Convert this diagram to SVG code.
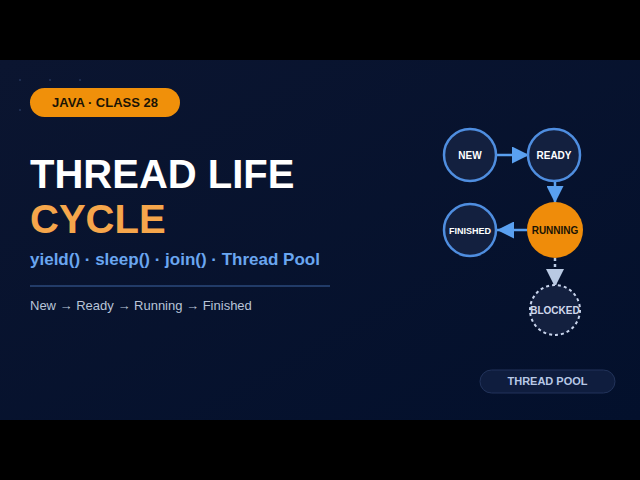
<svg xmlns="http://www.w3.org/2000/svg" width="640" height="480" viewBox="0 0 640 480">
<defs>
<linearGradient id="bg" x1="0" y1="0" x2="1" y2="1">
<stop offset="0" stop-color="#0b1530"/>
<stop offset="1" stop-color="#03102c"/>
</linearGradient>
<marker id="ah" viewBox="0 0 10 10" refX="10" refY="5" markerWidth="17" markerHeight="17" markerUnits="userSpaceOnUse" orient="auto"><path d="M0,0 L10,5 L0,10 Z" fill="#5aa0f0"/></marker>
<marker id="ahp" viewBox="0 0 10 10" refX="10" refY="5" markerWidth="18" markerHeight="18" markerUnits="userSpaceOnUse" orient="auto"><path d="M0,0 L10,5 L0,10 Z" fill="#b9c9e3"/></marker>
</defs>
<style>
.s{font-family:"Liberation Sans",Arial,sans-serif;font-weight:bold}
.n{fill:#13203f;stroke:#4f8ee0;stroke-width:2.5}
.nt{font-family:"Liberation Sans",Arial,sans-serif;font-weight:bold;font-size:10px;fill:#ffffff;text-anchor:middle}
.e{stroke:#5aa0f0;stroke-width:2.5;fill:none}
</style>
<rect width="640" height="480" fill="#000"/>
<rect x="0" y="60" width="640" height="360" fill="url(#bg)"/>
<g fill="#24345a">
<circle cx="20" cy="80" r="1"/><circle cx="50" cy="80" r="1"/><circle cx="80" cy="80" r="1"/><circle cx="20" cy="110" r="1"/>
</g>
<g id="badge">
<rect x="30" y="88" width="150" height="29" rx="14.5" fill="#f0900a"/>
<text x="105" y="107" class="s" font-size="13" fill="#1a1405" text-anchor="middle">JAVA · CLASS 28</text>
</g>
<g id="title">
<text x="30" y="188" class="s" font-size="40" fill="#ffffff">THREAD LIFE</text>
<text x="30" y="233" class="s" font-size="40" fill="#f6a64b">CYCLE</text>
<text x="30" y="265" class="s" font-size="17" fill="#6aa6f0">yield() · sleep() · join() · Thread Pool</text>
<line x1="30" y1="286" x2="330" y2="286" stroke="#2b4a7c" stroke-width="1.5"/>
<text x="30" y="310" font-family="Liberation Sans,Arial,sans-serif" font-size="13" fill="#b8c4d8">New → Ready → Running → Finished</text>
</g>
<g id="connectors">
<line class="e" x1="497" y1="155" x2="529" y2="155" marker-end="url(#ah)"/>
<line class="e" x1="555" y1="181" x2="555" y2="203" marker-end="url(#ah)"/>
<line class="e" x1="527" y1="230" x2="497" y2="230" marker-end="url(#ah)"/>
<line x1="555" y1="258" x2="555" y2="287" stroke="#b9c9e3" stroke-width="2.5" stroke-dasharray="3 3" marker-end="url(#ahp)"/>
</g>
<g id="node-new"><circle class="n" cx="470" cy="155" r="26"/><text class="nt" x="470" y="159">NEW</text></g>
<g id="node-ready"><circle class="n" cx="554" cy="155" r="26"/><text class="nt" x="554" y="159">READY</text></g>
<g id="node-running"><circle cx="555" cy="230" r="28" fill="#ef8c0a"/><text class="nt" x="555" y="234" style="fill:#1a1405">RUNNING</text></g>
<g id="node-finished"><circle class="n" cx="470" cy="230" r="26"/><text class="nt" x="470" y="234" style="font-size:9px">FINISHED</text></g>
<g id="node-blocked"><circle cx="555" cy="310" r="25" fill="#13203f" stroke="#c8d4ec" stroke-width="2" stroke-dasharray="3 3"/><text class="nt" x="555" y="314" style="font-size:10px;fill:#d0d8ec">BLOCKED</text></g>
<g id="pool">
<rect x="480" y="370" width="135" height="23" rx="11.5" fill="#0f1d3e" stroke="#22335a" stroke-width="1"/>
<text x="547.5" y="385" class="s" font-size="11" fill="#b8c8e6" text-anchor="middle">THREAD POOL</text>
</g>
</svg>
